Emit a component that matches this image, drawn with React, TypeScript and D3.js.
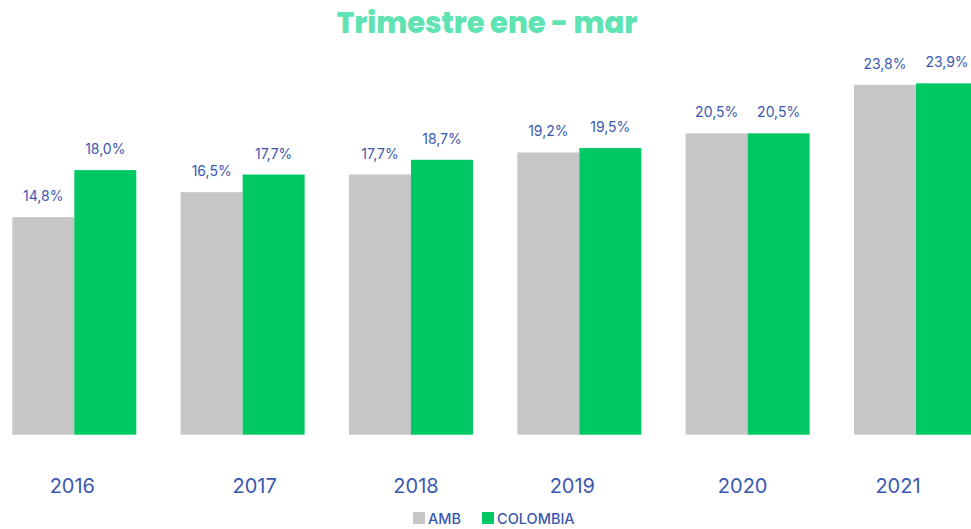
import * as d3 from 'd3';

const years = ['2016', '2017', '2018', '2019', '2020', '2021'];
const seriesNames = ['AMB', 'COLOMBIA'];
const ambValues = [14.8, 16.5, 17.7, 19.2, 20.5, 23.8];
const colombiaValues = [18.0, 17.7, 18.7, 19.5, 20.5, 23.9];

// the year labels in the source are not quite centred under their groups
const yearLabelShift = [-2, 12, 5, -7, -5, -18];

const colors: Record<string, string> = { AMB: '#c6c6c6', COLOMBIA: '#00c964' };
const labelColor = '#3b58b0';
const font = 'Inter, "Noto Sans", sans-serif';

const width = 971;
const height = 529;

const App = () => {
  const x = d3.scalePoint<string>().domain(years).range([74.3, 916]);
  const xSub = d3.scaleBand<string>().domain(seriesNames).range([-62, 62]);
  const y = d3.scaleLinear().domain([0, 25]).range([434.7, 67.2]);

  const rows = years.map((yr, i) => ({
    year: yr,
    shift: yearLabelShift[i],
    values: [
      { key: 'AMB', value: ambValues[i] },
      { key: 'COLOMBIA', value: colombiaValues[i] },
    ],
  }));

  const fmt = (v: number) => v.toFixed(1).replace('.', ',') + '%';

  return (
    <svg
      width={width}
      height={height}
      style={{ position: 'absolute', left: 0, top: 0, background: '#fff' }}
      fontFamily={font}
    >
      <text
        x={487}
        y={33}
        textAnchor="middle"
        fontSize={29}
        fontWeight={800}
        fill="#5fe3b3"
        fontFamily='Poppins, "Open Sans", Inter, sans-serif'
      >
        Trimestre ene - mar
      </text>

      {rows.map((r) => (
        <g key={r.year} transform={`translate(${x(r.year)},0)`}>
          {r.values.map((d) => (
            <g key={d.key}>
              <rect
                x={xSub(d.key)!}
                y={y(d.value)}
                width={xSub.bandwidth()}
                height={y(0) - y(d.value)}
                fill={colors[d.key]}
              />
              <text
                x={xSub(d.key)! + xSub.bandwidth() / 2}
                y={y(d.value) - 16}
                textAnchor="middle"
                fontSize={14}
                fill={labelColor}
              >
                {fmt(d.value)}
              </text>
            </g>
          ))}
          <text x={r.shift} y={493} textAnchor="middle" fontSize={20} fill={labelColor}>
            {r.year}
          </text>
        </g>
      ))}

      <g transform="translate(413,512)">
        <rect x={0} y={0} width={12} height={12} fill={colors.AMB} />
        <text x={15} y={11.5} fontSize={14.5} fontWeight={500} fill={labelColor}>
          AMB
        </text>
        <rect x={69} y={0} width={12} height={12} fill={colors.COLOMBIA} />
        <text x={84} y={11.5} fontSize={14.5} fontWeight={500} fill={labelColor}>
          COLOMBIA
        </text>
      </g>
    </svg>
  );
};

export default App;
